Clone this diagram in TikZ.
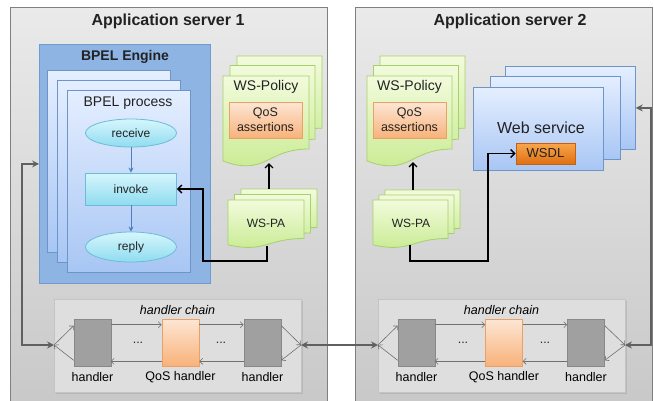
\documentclass[tikz,border=0pt]{standalone}
\usepackage{fontspec}
\setmainfont{Liberation Sans}
\usetikzlibrary{arrows.meta,shapes.geometric,shadows,calc}

\definecolor{srvtop}{HTML}{EAEAEA}
\definecolor{srvbot}{HTML}{C8C8C8}
\definecolor{srvdraw}{HTML}{7F7F7F}
\definecolor{engfill}{HTML}{8EB4E3}
\definecolor{engdraw}{HTML}{6F9BD1}
\definecolor{pgtop}{HTML}{E4EEFF}
\definecolor{pgbot}{HTML}{A8C6F4}
\definecolor{pgdraw}{HTML}{6D95C8}
\definecolor{cytop}{HTML}{D6F6FC}
\definecolor{cybot}{HTML}{8FDCF0}
\definecolor{cydraw}{HTML}{6CBCD8}
\definecolor{grtop}{HTML}{F2FBDC}
\definecolor{grbot}{HTML}{C6EA8E}
\definecolor{grdraw}{HTML}{A6D06A}
\definecolor{ortop}{HTML}{FDE6D4}
\definecolor{orbot}{HTML}{F8B27A}
\definecolor{ordraw}{HTML}{EBA066}
\definecolor{wstop}{HTML}{F9A64C}
\definecolor{wsbot}{HTML}{DE7012}
\definecolor{wsdraw}{HTML}{C86010}
\definecolor{hcfill}{HTML}{DEDEDE}
\definecolor{hcdraw}{HTML}{C4C4C4}
\definecolor{hdfill}{HTML}{A0A0A0}
\definecolor{hddraw}{HTML}{888888}
\definecolor{txt}{HTML}{222222}
\definecolor{conn}{HTML}{606060}
\definecolor{thinconn}{HTML}{707070}
\definecolor{bluearr}{HTML}{4F7FBF}

% document page with a wavy bottom edge: [style]{x}{y}{w}{h}
\newcommand\wavedoc[5][]{%
  \path[#1] (#2,#3) -- ({#2+#4},#3) -- ({#2+#4},{#3+0.802*#5})
    .. controls ({#2+0.5*#4},{#3+0.802*#5}) and ({#2+0.5*#4},{#3+1.108*#5}) .. (#2,{#3+0.934*#5}) -- cycle;}

\tikzset{
  box/.style={rectangle, inner sep=0pt, anchor=north west},
  server/.style={box, draw=srvdraw, line width=0.8pt, top color=srvtop, bottom color=srvbot},
  engine/.style={box, draw=engdraw, line width=0.8pt, fill=engfill},
  procpage/.style={box, draw=pgdraw, line width=0.8pt, top color=pgtop, bottom color=pgbot,
    minimum width=123, minimum height=182},
  wspage/.style={box, draw=pgdraw, line width=0.8pt, top color=pgtop, bottom color=pgbot,
    minimum width=130, minimum height=83},
  activity/.style={draw=cydraw, line width=0.8pt, top color=cytop, bottom color=cybot,
    font=\fontsize{12}{14}\selectfont, text=txt, inner sep=0pt, minimum width=91},
  doc/.style={draw=grdraw, line width=0.8pt, top color=grtop, bottom color=grbot},
  qos/.style={rectangle, draw=ordraw, line width=0.8pt, top color=ortop, bottom color=orbot,
    font=\fontsize{12.5}{15}\selectfont, text=txt, align=center, inner sep=0pt,
    minimum width=73, minimum height=36},
  wsdl/.style={rectangle, draw=wsdraw, line width=0.8pt, top color=wstop, bottom color=wsbot,
    font=\fontsize{13}{15}\selectfont, text=txt, inner sep=0pt, minimum width=59, minimum height=21},
  chain/.style={box, draw=hcdraw, line width=0.6pt, fill=hcfill,
    drop shadow={opacity=0.25, shadow xshift=1.5pt, shadow yshift=-1.5pt},
    minimum width=247, minimum height=93},
  handler/.style={rectangle, draw=hddraw, line width=0.6pt, fill=hdfill, inner sep=0pt,
    minimum width=37, minimum height=47},
  qoshandler/.style={handler, draw=ordraw, top color=ortop, bottom color=orbot},
  title/.style={font=\fontsize{16}{19}\selectfont\bfseries, text=txt},
  label/.style={font=\fontsize{14}{17}\selectfont, text=txt},
  small/.style={font=\fontsize{12.5}{15}\selectfont, text=black},
  blk/.style={draw=black, line width=1.4pt, -{Straight Barb[length=4pt,width=8pt,line width=1.4pt]}},
  bluearrow/.style={draw=bluearr, line width=1pt, -{Stealth[length=5pt,width=5pt]}},
  thinarrow/.style={draw=thinconn, line width=0.6pt, -{Straight Barb[length=3pt,width=6pt]}},
  bigconn/.style={draw=conn, line width=1.6pt,
    {Stealth[length=7pt,width=7pt,inset=2.5pt]}-{Stealth[length=7pt,width=7pt,inset=2.5pt]}},
}

\begin{document}
\begin{tikzpicture}[x=1pt,y=-1pt]
\useasboundingbox (0,0) rectangle (654,400);
\clip (0,0) rectangle (654,400);

% ---------- application servers ----------
\node[server, minimum width=317, minimum height=400] (srv1) at (10,7) {};
\node[server, minimum width=297, minimum height=400] (srv2) at (355,7) {};
\node[title] (t1) at (168,21) {Application server 1};
\node[title] (t2) at (510,21) {Application server 2};

% ---------- BPEL engine with stacked processes ----------
\node[engine, minimum width=171, minimum height=239] (eng) at (39,44) {};
\node[label, font=\fontsize{14}{17}\selectfont\bfseries] (engt) at (125,57) {BPEL Engine};
\node[procpage] (pr3) at (47,70) {};
\node[procpage] (pr2) at (57,80) {};
\node[procpage] (pr1) at (67,90) {};
\node[label] (prt) at (128,103) {BPEL process};

\node[activity, ellipse, minimum height=28] (recv) at (131,133) {receive};
\node[activity, rectangle, minimum height=32] (inv) at (131,189) {invoke};
\node[activity, ellipse, minimum height=30] (rep) at (131,247) {reply};
\draw[bluearrow] (recv) -- (inv);
\draw[bluearrow] (inv) -- (rep);

% ---------- WS-Policy and WS-PA documents, server 1 ----------
\wavedoc[doc]{237}{56}{85}{90}
\wavedoc[doc]{230}{65.5}{85}{92}
\wavedoc[doc]{223}{76}{86}{91}
\node[label] (pol1) at (266,87) {WS-Policy};
\node[qos] (qos1) at (265.5,120) {QoS\\assertions};

\wavedoc[doc]{241}{189}{76}{48}
\wavedoc[doc]{234.5}{194.5}{76}{48}
\wavedoc[doc]{228}{200}{76}{48}
\node[label, font=\fontsize{12}{14}\selectfont] (pa1) at (266,223) {WS-PA};

\coordinate (pa1top) at (269,189);
\coordinate (pol1bot) at (269,163);
\coordinate (pa1bot) at (267,246);
\draw[blk] (pa1top) -- (pol1bot);
\draw[blk] (pa1bot) -- (267,261) -- (203,261) |- (inv.east);

% ---------- WS-Policy and WS-PA documents, server 2 ----------
\wavedoc[doc]{380}{56}{85}{90}
\wavedoc[doc]{373.5}{65.5}{85}{92}
\wavedoc[doc]{367}{76}{85}{91}
\node[label] (pol2) at (409.5,87) {WS-Policy};
\node[qos] (qos2) at (409.5,120) {QoS\\assertions};

\wavedoc[doc]{385}{190}{75}{48}
\wavedoc[doc]{379}{195}{75}{48}
\wavedoc[doc]{373}{200}{75}{48}
\node[label, font=\fontsize{12}{14}\selectfont] (pa2) at (411,223) {WS-PA};

% ---------- web service ----------
\node[wspage] (ws3) at (505,66) {};
\node[wspage] (ws2) at (490,76) {};
\node[wspage] (ws1) at (473,87) {};
\node[label, font=\fontsize{16}{19}\selectfont] (wst) at (541,128) {Web service};
\node[wsdl] (wsdl) at (545.5,153.5) {WSDL};

\coordinate (pa2top) at (413,190);
\coordinate (pol2bot) at (413,162);
\coordinate (pa2bot) at (410,245);
\draw[blk] (pa2top) -- (pol2bot);
\draw[blk] (pa2bot) -- (410,261) -- (488,261) |- (wsdl.west);

% ---------- handler chains ----------
\foreach \s/\cx/\ax/\qx/\bx/\dx/\ex in {1/54/92.5/180.5/262.5/138/221, 2/378/416.5/504/586/463/545} {
  \node[chain] (hc\s) at (\cx,299) {};
  \node[small, font=\fontsize{12.5}{15}\selectfont\itshape] (hct\s) at ({\cx+123.5},310) {handler chain};
  \node[handler] (ha\s) at (\ax,342.5) {};
  \node[qoshandler] (hq\s) at (\qx,342.5) {};
  \node[handler] (hb\s) at (\bx,342.5) {};
  \node[small] (hal\s) at (\ax,377) {handler};
  \node[small] (hql\s) at (\qx,377) {QoS handler};
  \node[small] (hbl\s) at (\bx,377) {handler};
  \node[small, text=txt] (d1\s) at (\dx,343) {...};
  \node[small, text=txt] (d2\s) at (\ex,343) {...};
  \coordinate (jl\s) at (\cx,345);
  \coordinate (jr\s) at ({\cx+247},345);
  \draw[thinarrow] ($(ha\s.north east)+(0,6)$) -- ($(hq\s.north west)+(0,6)$);
  \draw[thinarrow] ($(hq\s.north east)+(0,6)$) -- ($(hb\s.north west)+(0,6)$);
  \draw[thinarrow] ($(hb\s.south west)+(0,-5)$) -- ($(hq\s.south east)+(0,-5)$);
  \draw[thinarrow] ($(hq\s.south west)+(0,-5)$) -- ($(ha\s.south west)+(37,-5)$);
  \draw[thinarrow] (jl\s) -- ($(ha\s.north west)+(0,7)$);
  \draw[thinarrow] ($(ha\s.south west)+(0,-6)$) -- (jl\s);
  \draw[thinarrow] ($(hb\s.north east)+(0,7)$) -- (jr\s);
  \draw[thinarrow] (jr\s) -- ($(hb\s.south east)+(0,-6)$);
}

% ---------- message paths between the servers ----------
\draw[bigconn] (jl1) -- (22,345) |- (eng.west);
\draw[bigconn] (jr1) -- (jl2);
\draw[bigconn] (jr2) -- (651,345) |- (ws3.east);

\end{tikzpicture}
\end{document}
